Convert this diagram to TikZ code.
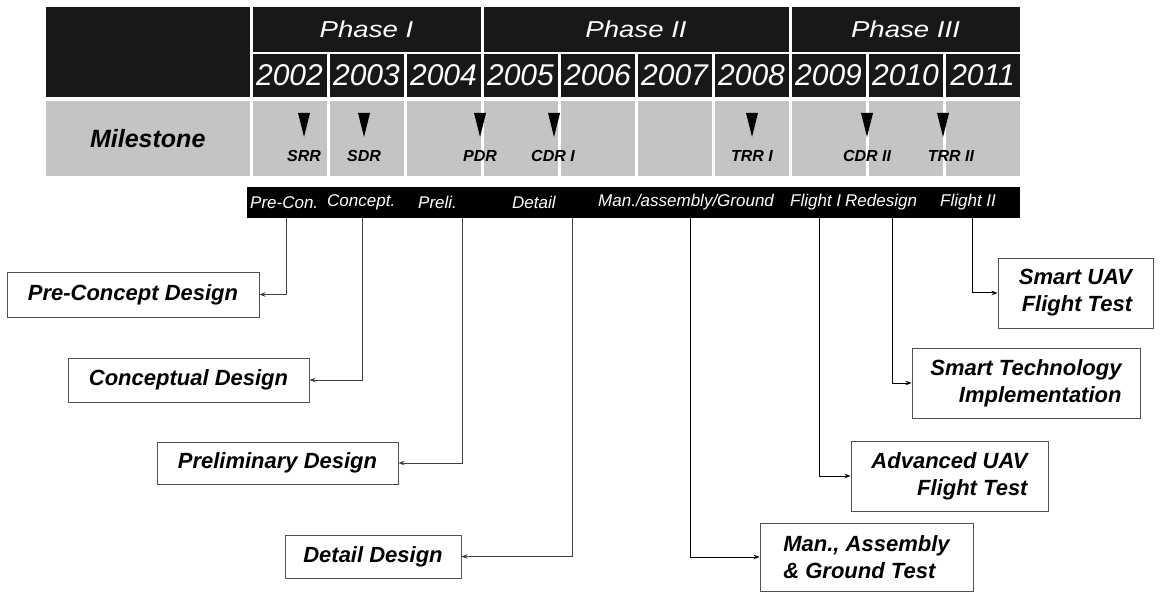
\documentclass[tikz,border=0pt]{standalone}
\usepackage{fontspec}
\setmainfont{Liberation Sans}
\usetikzlibrary{arrows.meta}
\definecolor{hdr}{RGB}{24,24,24}
\definecolor{msg}{RGB}{196,196,196}
\definecolor{boxln}{RGB}{80,80,80}
\begin{document}
\begin{tikzpicture}[x=1pt,y=-1pt,
  darkcell/.style={fill=hdr, inner sep=0pt, outer sep=0pt, text=white},
  yrcell/.style={darkcell, minimum width=74pt, minimum height=43pt, font=\fontsize{30}{30}\selectfont\itshape},
  phcell/.style={darkcell, minimum height=45pt, font=\fontsize{23}{23}\selectfont\itshape},
  mscell/.style={fill=msg, inner sep=0pt, outer sep=0pt, minimum width=74pt, minimum height=75pt},
  mlabel/.style={inner sep=0pt, font=\fontsize{16}{16}\selectfont\bfseries\itshape},
  barlbl/.style={anchor=west, inner sep=0pt, text=white, font=\fontsize{17}{17}\selectfont\itshape},
  stagebox/.style={draw=boxln, line width=0.9pt, fill=white, inner sep=0pt, font=\fontsize{22}{27}\selectfont\bfseries\itshape},
  connL/.style={draw=black!75, line width=0.8pt, -{Stealth[length=6pt,width=4.5pt]}},
  connR/.style={draw=black, line width=1pt, -{Stealth[length=6pt,width=4.5pt]}}
]
\useasboundingbox (0,0) rectangle (1161,593);

% header
\node[darkcell, minimum width=203.5pt, minimum height=90pt] (corner) at (147.75,52) {};
\node[phcell, minimum width=228pt] (p1) at (366.5,29.5) {\scalebox{1.2}[1]{Phase I}};
\node[phcell, minimum width=305pt] (p2) at (636,29.5) {\scalebox{1.2}[1]{Phase II}};
\node[phcell, minimum width=228pt] (p3) at (905.5,29.5) {\scalebox{1.2}[1]{Phase III}};
\foreach \yr [count=\i from 0] in {2002,2003,2004,2005,2006,2007,2008,2009,2010,2011}
  \node[yrcell] (y\yr) at (289.5+77*\i,75.5) {\yr};

% milestone row
\node[mscell, minimum width=203.5pt] (mlab) at (147.75,138.5) {\fontsize{25}{25}\selectfont\bfseries\itshape Milestone};
\foreach \i in {0,...,9}
  \node[mscell] (m\i) at (289.5+77*\i,138.5) {};
\foreach \tx in {304,364,480,554,752,867,943}
  \fill[black] (\tx-6,113) -- (\tx+6,113) -- (\tx,137) -- cycle;
\node[mlabel] (srr) at (304,156) {SRR};
\node[mlabel] (sdr) at (364,156) {SDR};
\node[mlabel] (pdr) at (480,156) {PDR};
\node[mlabel] (cdr1) at (553,156) {CDR I};
\node[mlabel] (trr1) at (752,156) {TRR I};
\node[mlabel] (cdr2) at (867,156) {CDR II};
\node[mlabel] (trr2) at (951,156) {TRR II};

% stage bar
\node[fill=black, inner sep=0pt, minimum width=773pt, minimum height=31pt] (bar) at (633.5,202.5) {};
\node[barlbl] (b1) at (250,202.5) {Pre-Con.};
\node[barlbl] (b2) at (327,202.5) {Concept.};
\node[barlbl] (b3) at (418,202.5) {Preli.};
\node[barlbl] (b4) at (512,202.5) {Detail};
\node[barlbl] (b5) at (598,202.5) {Man./assembly/Ground};
\node[barlbl] (b6) at (790,202.5) {Flight I};
\node[barlbl] (b7) at (845,202.5) {Redesign};
\node[barlbl] (b8) at (940,202.5) {Flight II};

\coordinate (s1) at (286,218);
\coordinate (s2) at (362,218);
\coordinate (s3) at (462,218);
\coordinate (s4) at (572,218);
\coordinate (s5) at (690,218);
\coordinate (s6) at (819,218);
\coordinate (s7) at (892,218);
\coordinate (s8) at (972,218);

% stage boxes
\node[stagebox, minimum width=252pt, minimum height=45pt] (pcd) at (133,294.5) {Pre-Concept Design};
\node[stagebox, minimum width=241pt, minimum height=44pt] (cd) at (188.5,380) {Conceptual Design};
\node[stagebox, minimum width=241pt, minimum height=42pt] (pd) at (277.5,463) {Preliminary Design};
\node[stagebox, minimum width=176pt, minimum height=43pt] (dd) at (373,556.5) {Detail Design};
\node[stagebox, align=right, minimum width=155pt, minimum height=70pt] (suav) at (1075.5,293) {Smart UAV\\Flight Test};
\node[stagebox, align=right, minimum width=228pt, minimum height=70pt] (stech) at (1026,383) {Smart Technology\\Implementation};
\node[stagebox, align=right, minimum width=197pt, minimum height=70pt] (auav) at (949.5,476) {Advanced UAV\\Flight Test};
\node[stagebox, align=left, minimum width=213pt, minimum height=68pt] (mag) at (866.5,557) {Man., Assembly\\\& Ground Test};

% connectors
\draw[connL] (s1) |- (pcd.east);
\draw[connL] (s2) |- (cd.east);
\draw[connL] (s3) |- (pd.east);
\draw[connL] (s4) |- (dd.east);
\draw[connR] (s5) |- (mag.west);
\draw[connR] (s6) |- (auav.west);
\draw[connR] (s7) |- (stech.west);
\draw[connR] (s8) |- (suav.west);
\end{tikzpicture}
\end{document}
